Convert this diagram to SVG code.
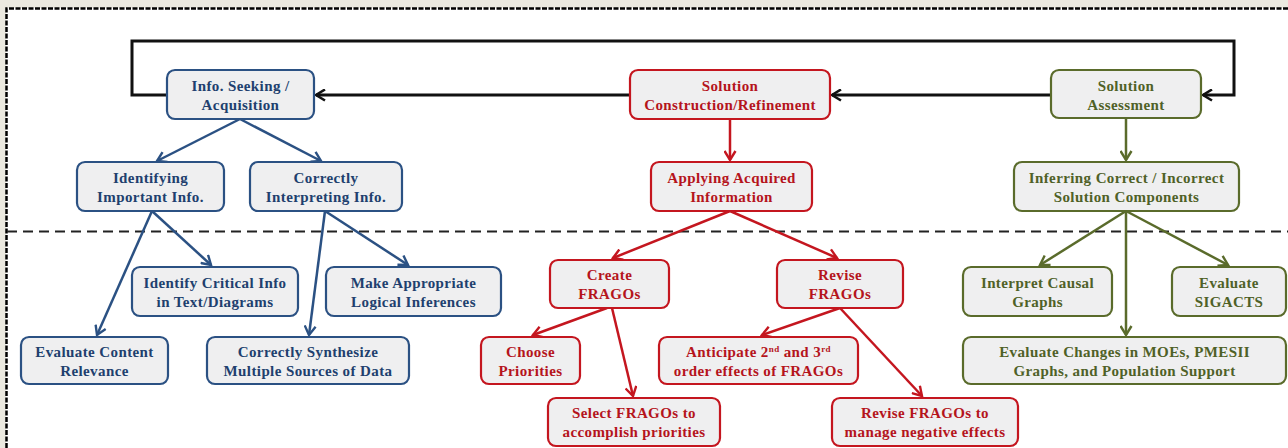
<svg xmlns="http://www.w3.org/2000/svg" width="1288" height="448" viewBox="0 0 1288 448">
  <style>
    .box { fill: #efeff0; stroke-width: 2.2; }
    .blue .box { stroke: #2b5183; }
    .red .box { stroke: #c4161f; }
    .green .box { stroke: #5a6b2b; }
    text { font-family: "Liberation Serif", "Times New Roman", serif; font-weight: bold; font-size: 15px; letter-spacing: 0.4px; text-anchor: middle; }
    .blue text { fill: #213f6e; }
    .red text { fill: #b5141c; }
    .green text { fill: #4f6127; }
    .sup { font-size: 9px; }
    .link { fill: none; stroke-width: 2.5; }
    .k { stroke: #111; stroke-width: 3; }
    .b { stroke: #2b5183; }
    .r { stroke: #c4161f; }
    .g { stroke: #5a6b2b; }
  </style>
  <defs>
    <marker id="ak" viewBox="0 0 13 13" refX="11" refY="6.5" markerWidth="13" markerHeight="13" markerUnits="userSpaceOnUse" orient="auto">
      <path d="M2,1 L11,6.5 L2,12" fill="none" stroke="#111" stroke-width="2.6"/>
    </marker>
    <marker id="ab" viewBox="0 0 13 13" refX="11" refY="6.5" markerWidth="13" markerHeight="13" markerUnits="userSpaceOnUse" orient="auto">
      <path d="M2,1 L11,6.5 L2,12" fill="none" stroke="#2b5183" stroke-width="2.4"/>
    </marker>
    <marker id="ar" viewBox="0 0 13 13" refX="11" refY="6.5" markerWidth="13" markerHeight="13" markerUnits="userSpaceOnUse" orient="auto">
      <path d="M2,1 L11,6.5 L2,12" fill="none" stroke="#c4161f" stroke-width="2.4"/>
    </marker>
    <marker id="ag" viewBox="0 0 13 13" refX="11" refY="6.5" markerWidth="13" markerHeight="13" markerUnits="userSpaceOnUse" orient="auto">
      <path d="M2,1 L11,6.5 L2,12" fill="none" stroke="#5a6b2b" stroke-width="2.4"/>
    </marker>
  </defs>

  <!-- page and frame -->
  <rect x="0" y="0" width="1288" height="448" fill="#ebe9e0"/>
  <rect x="6" y="8" width="1282" height="440" fill="#ffffff"/>
  <path d="M6.5,448 V8.5 H1288" fill="none" stroke="#000" stroke-width="2.5" stroke-dasharray="5 1.5"/>
  <!-- divider between levels -->
  <line x1="7" y1="231.5" x2="1288" y2="231.5" stroke="#222" stroke-width="2" stroke-dasharray="10 6"/>

  <g id="connectors">
    <path class="link k" d="M167,95 H132 V41 H1234 V95 H1203" marker-end="url(#ak)"/>
    <path class="link k" d="M1051,95 H832" marker-end="url(#ak)"/>
    <path class="link k" d="M630,95 H316" marker-end="url(#ak)"/>

    <path class="link b" d="M240,119 L157,161" marker-end="url(#ab)"/>
    <path class="link b" d="M240,119 L321,161" marker-end="url(#ab)"/>
    <path class="link b" d="M152,211 L97,335" marker-end="url(#ab)"/>
    <path class="link b" d="M152,211 L211,265" marker-end="url(#ab)"/>
    <path class="link b" d="M325,211 L309,335" marker-end="url(#ab)"/>
    <path class="link b" d="M325,211 L408,265" marker-end="url(#ab)"/>

    <path class="link r" d="M730,119 V160" marker-end="url(#ar)"/>
    <path class="link r" d="M730,211 L613,258" marker-end="url(#ar)"/>
    <path class="link r" d="M730,211 L837,258" marker-end="url(#ar)"/>
    <path class="link r" d="M607,308 L533,335" marker-end="url(#ar)"/>
    <path class="link r" d="M612,308 L633,396" marker-end="url(#ar)"/>
    <path class="link r" d="M840,308 L762,335" marker-end="url(#ar)"/>
    <path class="link r" d="M840,308 L922,396" marker-end="url(#ar)"/>

    <path class="link g" d="M1126,118 V160" marker-end="url(#ag)"/>
    <path class="link g" d="M1126,211 L1040,265" marker-end="url(#ag)"/>
    <path class="link g" d="M1126,211 L1228,265" marker-end="url(#ag)"/>
    <path class="link g" d="M1126,211 V335" marker-end="url(#ag)"/>
  </g>

  <!-- information seeking branch -->
  <g class="blue">
    <g id="info-seeking">
      <rect class="box" x="167" y="70" width="147" height="49" rx="8"/>
      <text x="240.5" y="90.5">Info. Seeking /</text>
      <text x="240.5" y="109.5">Acquisition</text>
    </g>
    <g id="identifying">
      <rect class="box" x="77" y="162" width="147" height="49" rx="8"/>
      <text x="150.5" y="182.5">Identifying</text>
      <text x="150.5" y="201.5">Important Info.</text>
    </g>
    <g id="interpreting">
      <rect class="box" x="250" y="162" width="152" height="49" rx="8"/>
      <text x="326" y="182.5">Correctly</text>
      <text x="326" y="201.5">Interpreting Info.</text>
    </g>
    <g id="identify-critical">
      <rect class="box" x="132" y="267" width="166" height="49" rx="8"/>
      <text x="215" y="287.5">Identify Critical Info</text>
      <text x="215" y="306.5">in Text/Diagrams</text>
    </g>
    <g id="logical-inferences">
      <rect class="box" x="326" y="267" width="175" height="49" rx="8"/>
      <text x="413.5" y="287.5">Make Appropriate</text>
      <text x="413.5" y="306.5">Logical Inferences</text>
    </g>
    <g id="content-relevance">
      <rect class="box" x="21" y="337" width="147" height="47" rx="8"/>
      <text x="94.5" y="356.5">Evaluate Content</text>
      <text x="94.5" y="375.5">Relevance</text>
    </g>
    <g id="synthesize">
      <rect class="box" x="207" y="337" width="202" height="47" rx="8"/>
      <text x="308" y="356.5">Correctly Synthesize</text>
      <text x="308" y="375.5">Multiple Sources of Data</text>
    </g>
  </g>

  <!-- solution construction branch -->
  <g class="red">
    <g id="construction">
      <rect class="box" x="630" y="70" width="200" height="49" rx="8"/>
      <text x="730" y="90.5">Solution</text>
      <text x="730" y="109.5">Construction/Refinement</text>
    </g>
    <g id="applying">
      <rect class="box" x="651" y="162" width="161" height="49" rx="8"/>
      <text x="731.5" y="182.5">Applying Acquired</text>
      <text x="731.5" y="201.5">Information</text>
    </g>
    <g id="create-fragos">
      <rect class="box" x="550" y="260" width="119" height="48" rx="8"/>
      <text x="609.5" y="280">Create</text>
      <text x="609.5" y="299">FRAGOs</text>
    </g>
    <g id="revise-fragos">
      <rect class="box" x="777" y="260" width="126" height="48" rx="8"/>
      <text x="840" y="280">Revise</text>
      <text x="840" y="299">FRAGOs</text>
    </g>
    <g id="choose-priorities">
      <rect class="box" x="481" y="337" width="99" height="47" rx="8"/>
      <text x="530.5" y="356.5">Choose</text>
      <text x="530.5" y="375.5">Priorities</text>
    </g>
    <g id="anticipate">
      <rect class="box" x="659" y="337" width="199" height="47" rx="8"/>
      <text x="758.5" y="356.5">Anticipate 2<tspan class="sup" dy="-5">nd</tspan><tspan dy="5"> and 3</tspan><tspan class="sup" dy="-5">rd</tspan></text>
      <text x="758.5" y="375.5">order effects of FRAGOs</text>
    </g>
    <g id="select-fragos">
      <rect class="box" x="548" y="398" width="172" height="48" rx="8"/>
      <text x="634" y="418">Select FRAGOs to</text>
      <text x="634" y="437">accomplish priorities</text>
    </g>
    <g id="manage-effects">
      <rect class="box" x="832" y="398" width="186" height="48" rx="8"/>
      <text x="925" y="418">Revise FRAGOs to</text>
      <text x="925" y="437">manage negative effects</text>
    </g>
  </g>

  <!-- solution assessment branch -->
  <g class="green">
    <g id="assessment">
      <rect class="box" x="1051" y="70" width="150" height="48" rx="8"/>
      <text x="1126" y="90.5">Solution</text>
      <text x="1126" y="109.5">Assessment</text>
    </g>
    <g id="inferring">
      <rect class="box" x="1014" y="162" width="225" height="49" rx="8"/>
      <text x="1126.5" y="182.5">Inferring Correct / Incorrect</text>
      <text x="1126.5" y="201.5">Solution Components</text>
    </g>
    <g id="causal-graphs">
      <rect class="box" x="963" y="267" width="149" height="49" rx="8"/>
      <text x="1037.5" y="287.5">Interpret Causal</text>
      <text x="1037.5" y="306.5">Graphs</text>
    </g>
    <g id="sigacts">
      <rect class="box" x="1172" y="267" width="114" height="49" rx="8"/>
      <text x="1229" y="287.5">Evaluate</text>
      <text x="1229" y="306.5">SIGACTS</text>
    </g>
    <g id="evaluate-changes">
      <rect class="box" x="963" y="337" width="323" height="47" rx="8"/>
      <text x="1124.5" y="356.5">Evaluate Changes in MOEs, PMESII</text>
      <text x="1124.5" y="375.5">Graphs, and Population Support</text>
    </g>
  </g>
</svg>
